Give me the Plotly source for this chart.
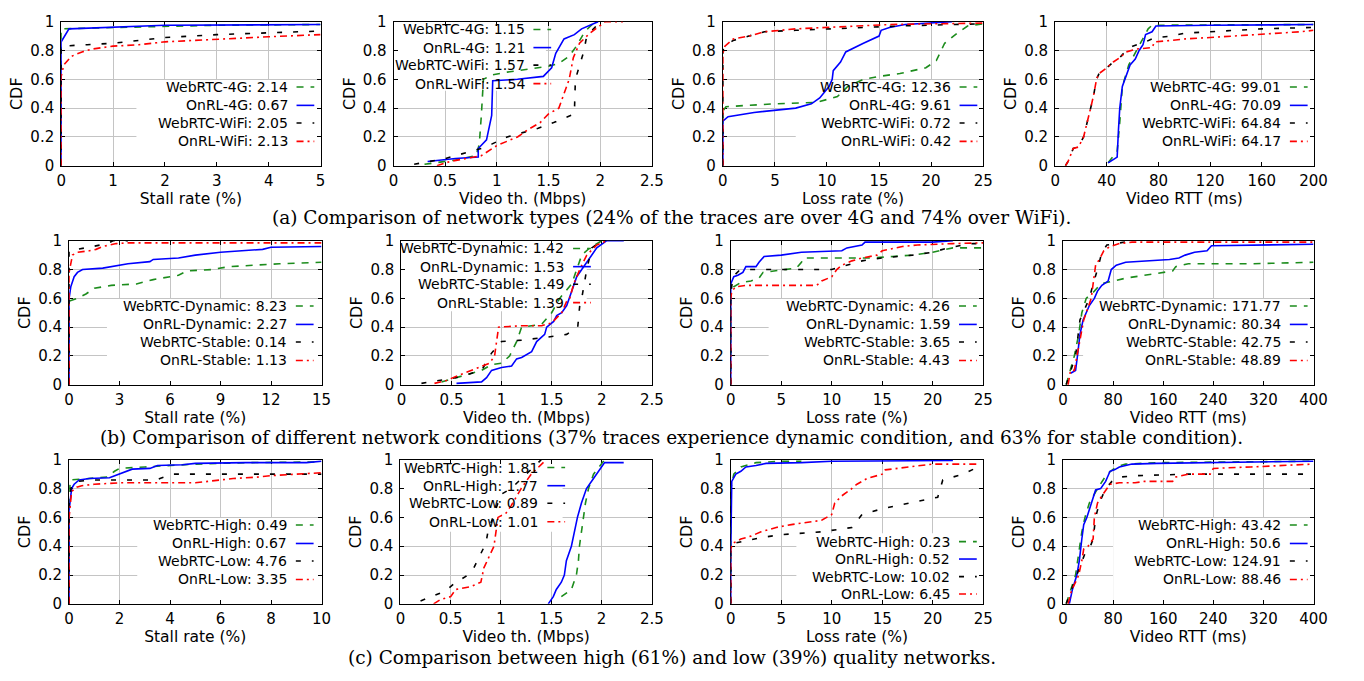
import plotly.graph_objects as go

# ---------------- series names and legend means ----------------
names_a = ["WebRTC-4G", "OnRL-4G", "WebRTC-WiFi", "OnRL-WiFi"]
names_b = ["WebRTC-Dynamic", "OnRL-Dynamic", "WebRTC-Stable", "OnRL-Stable"]
names_c = ["WebRTC-High", "OnRL-High", "WebRTC-Low", "OnRL-Low"]

mean_a_stall = [2.14, 0.67, 2.05, 2.13]
mean_a_thr = [1.15, 1.21, 1.57, 1.54]
mean_a_loss = [12.36, 9.61, 0.72, 0.42]
mean_a_rtt = [99.01, 70.09, 64.84, 64.17]
mean_b_stall = [8.23, 2.27, 0.14, 1.13]
mean_b_thr = [1.42, 1.53, 1.49, 1.39]
mean_b_loss = [4.26, 1.59, 3.65, 4.43]
mean_b_rtt = [171.77, 80.34, 42.75, 48.89]
mean_c_stall = [0.49, 0.67, 4.76, 3.35]
mean_c_thr = [1.81, 1.77, 0.89, 1.01]
mean_c_loss = [0.23, 0.52, 10.02, 6.45]
mean_c_rtt = [43.42, 50.6, 124.91, 88.46]

# ---------------- (a) network types ----------------
a_stall_web4g_x = [0, 0, 0.5, 1, 2, 3, 5]
a_stall_web4g_y = [0, 0.95, 0.955, 0.96, 0.97, 0.975, 0.98]
a_stall_onrl4g_x = [0, 0, 0.15, 1, 2, 5]
a_stall_onrl4g_y = [0, 0.86, 0.95, 0.96, 0.975, 0.98]
a_stall_webwifi_x = [0, 0, 0.5, 1, 1.5, 2, 3, 4, 5]
a_stall_webwifi_y = [0, 0.83, 0.84, 0.85, 0.87, 0.89, 0.91, 0.925, 0.935]
a_stall_onrlwifi_x = [0, 0, 0.05, 0.2, 0.4, 0.6, 1, 1.5, 2, 2.5, 3, 4, 5]
a_stall_onrlwifi_y = [0, 0.62, 0.70, 0.76, 0.79, 0.81, 0.83, 0.84, 0.86, 0.87, 0.88, 0.895, 0.91]

a_thr_web4g_x = [0.3, 0.6, 0.8, 0.83, 0.85, 0.87, 0.95, 1.1, 1.3, 1.5, 1.6, 1.7, 1.77, 1.85, 1.95]
a_thr_web4g_y = [0.01, 0.04, 0.07, 0.15, 0.35, 0.6, 0.63, 0.65, 0.67, 0.69, 0.71, 0.76, 0.83, 0.93, 1.0]
a_thr_onrl4g_x = [0.33, 0.6, 0.82, 0.82, 0.9, 0.95, 0.96, 1.2, 1.45, 1.53, 1.57, 1.65, 1.75, 1.82, 1.98]
a_thr_onrl4g_y = [0.03, 0.05, 0.06, 0.12, 0.18, 0.35, 0.59, 0.6, 0.62, 0.68, 0.78, 0.88, 0.91, 0.95, 1.0]
a_thr_webwifi_x = [0.2, 0.5, 0.7, 0.85, 0.95, 1.1, 1.25, 1.4, 1.55, 1.68, 1.75, 1.76, 1.8, 1.84, 1.87, 2.0]
a_thr_webwifi_y = [0.01, 0.05, 0.09, 0.12, 0.15, 0.2, 0.23, 0.26, 0.3, 0.34, 0.36, 0.6, 0.7, 0.79, 0.9, 1.0]
a_thr_onrlwifi_x = [0.42, 0.55, 0.7, 0.85, 1.0, 1.2, 1.3, 1.42, 1.5, 1.6, 1.65, 1.7, 1.74, 1.8, 1.9, 2.05, 2.22]
a_thr_onrlwifi_y = [0.0, 0.03, 0.05, 0.07, 0.14, 0.2, 0.25, 0.3, 0.36, 0.4, 0.5, 0.6, 0.75, 0.85, 0.92, 1.0, 1.0]

a_loss_web4g_x = [0, 0, 0.3, 5, 9, 11, 12, 13.5, 15, 17, 19.5, 20.5, 21.3, 22.5, 23.5, 25]
a_loss_web4g_y = [0, 0.38, 0.41, 0.43, 0.44, 0.48, 0.55, 0.6, 0.62, 0.64, 0.68, 0.73, 0.85, 0.92, 0.97, 0.985]
a_loss_onrl4g_x = [0, 0, 0.5, 3, 7, 8.5, 9.3, 10.2, 10.5, 10.6, 11.3, 11.8, 13.5, 14.5, 15, 15.2, 16, 17.5, 20, 22]
a_loss_onrl4g_y = [0, 0.31, 0.34, 0.37, 0.40, 0.43, 0.47, 0.55, 0.6, 0.66, 0.72, 0.79, 0.85, 0.88, 0.9, 0.94, 0.96, 0.98, 0.99, 1.0]
a_loss_webwifi_x = [0, 0, 0.2, 1, 2.5, 4, 7, 10, 14, 17, 22, 25]
a_loss_webwifi_y = [0, 0.8, 0.83, 0.87, 0.9, 0.93, 0.94, 0.95, 0.96, 0.97, 0.98, 0.985]
a_loss_onrlwifi_x = [0, 0, 0.2, 1, 2.5, 4, 7, 10, 13, 16, 20, 25]
a_loss_onrlwifi_y = [0, 0.78, 0.83, 0.88, 0.9, 0.93, 0.95, 0.96, 0.97, 0.98, 0.985, 0.99]

a_rtt_web4g_x = [41, 48, 50, 52, 57, 63, 68, 72, 75, 200]
a_rtt_web4g_y = [0.02, 0.1, 0.3, 0.55, 0.7, 0.8, 0.88, 0.95, 0.975, 0.98]
a_rtt_onrl4g_x = [41, 48, 49, 50, 52, 55, 58, 62, 65, 68, 70, 75, 78, 120, 200]
a_rtt_onrl4g_y = [0.02, 0.06, 0.25, 0.4, 0.55, 0.62, 0.7, 0.74, 0.8, 0.84, 0.91, 0.93, 0.97, 0.975, 0.98]
a_rtt_webwifi_x = [8, 10, 14, 18, 22, 25, 28, 30, 32, 34, 40, 45, 50, 55, 60, 70, 75, 80, 90, 100, 120, 140, 160, 200]
a_rtt_webwifi_y = [0, 0.03, 0.12, 0.13, 0.2, 0.3, 0.42, 0.5, 0.6, 0.64, 0.68, 0.72, 0.75, 0.8, 0.83, 0.86, 0.88, 0.89, 0.9, 0.92, 0.93, 0.94, 0.95, 0.96]
a_rtt_onrlwifi_x = [8, 10, 14, 18, 22, 25, 28, 30, 32, 34, 40, 45, 50, 55, 63, 75, 77, 90, 100, 120, 140, 160, 180, 190, 200]
a_rtt_onrlwifi_y = [0, 0.03, 0.12, 0.13, 0.2, 0.3, 0.42, 0.5, 0.6, 0.64, 0.68, 0.72, 0.75, 0.79, 0.81, 0.82, 0.86, 0.87, 0.88, 0.89, 0.9, 0.91, 0.92, 0.93, 0.94]

# ---------------- (b) network conditions ----------------
b_stall_webdyn_x = [0, 0, 0.5, 1, 1.5, 2.5, 4, 5, 6.5, 7, 8.5, 9.5, 11, 12.5, 15]
b_stall_webdyn_y = [0, 0.58, 0.6, 0.63, 0.67, 0.69, 0.7, 0.73, 0.76, 0.79, 0.8, 0.82, 0.83, 0.84, 0.85]
b_stall_onrldyn_x = [0, 0, 0.1, 0.3, 0.5, 0.8, 2, 3, 3.5, 4.8, 5, 6.5, 7.5, 9, 10, 11.5, 12, 15]
b_stall_onrldyn_y = [0, 0.6, 0.68, 0.75, 0.78, 0.8, 0.81, 0.83, 0.84, 0.855, 0.87, 0.88, 0.9, 0.92, 0.93, 0.94, 0.955, 0.96]
b_stall_webstable_x = [0, 0, 0.5, 1.5, 2.3, 2.6, 3.5]
b_stall_webstable_y = [0, 0.93, 0.94, 0.96, 0.98, 1.0, 1.0]
b_stall_onrlstable_x = [0, 0, 0.2, 0.5, 1.2, 1.6, 2, 2.8, 3.5, 15]
b_stall_onrlstable_y = [0, 0.78, 0.9, 0.92, 0.93, 0.94, 0.96, 0.98, 0.985, 0.985]

b_thr_webdyn_x = [0.4, 0.6, 0.8, 0.9, 1.0, 1.08, 1.15, 1.2, 1.4, 1.5, 1.58, 1.7, 1.75, 1.8, 1.88, 2.0]
b_thr_webdyn_y = [0.02, 0.06, 0.1, 0.14, 0.15, 0.2, 0.3, 0.4, 0.42, 0.5, 0.6, 0.7, 0.8, 0.9, 0.95, 1.0]
b_thr_onrldyn_x = [0.55, 0.8, 0.85, 0.9, 1.0, 1.1, 1.15, 1.2, 1.3, 1.35, 1.43, 1.45, 1.52, 1.55, 1.6, 1.65, 1.7, 1.75, 1.8, 1.85, 1.9, 1.95, 2.05, 2.22]
b_thr_onrldyn_y = [0.01, 0.02, 0.05, 0.1, 0.12, 0.13, 0.18, 0.19, 0.23, 0.3, 0.35, 0.4, 0.44, 0.48, 0.5, 0.55, 0.65, 0.75, 0.8, 0.85, 0.9, 0.95, 1.0, 1.0]
b_thr_webstable_x = [0.2, 0.55, 0.8, 0.9, 1.0, 1.2, 1.45, 1.65, 1.76, 1.78, 1.8, 1.85, 1.9, 2.0]
b_thr_webstable_y = [0.01, 0.05, 0.1, 0.22, 0.3, 0.31, 0.33, 0.35, 0.4, 0.55, 0.6, 0.8, 0.95, 1.0]
b_thr_onrlstable_x = [0.33, 0.45, 0.55, 0.7, 0.8, 0.88, 0.93, 0.97, 1.2, 1.4, 1.5, 1.6, 1.65, 1.68, 1.72, 1.78, 1.85, 1.95, 2.05]
b_thr_onrlstable_y = [0.01, 0.03, 0.06, 0.1, 0.13, 0.15, 0.2, 0.4, 0.41, 0.41, 0.43, 0.5, 0.58, 0.6, 0.7, 0.8, 0.9, 0.97, 1.0]

b_loss_webdyn_x = [0, 0, 0.3, 1, 2, 2.8, 3.2, 4.5, 5.5, 6.5, 7, 7.2, 10, 14, 16, 18, 20, 22, 25]
b_loss_webdyn_y = [0, 0.62, 0.68, 0.71, 0.72, 0.74, 0.78, 0.79, 0.8, 0.81, 0.85, 0.88, 0.88, 0.88, 0.89, 0.9, 0.92, 0.95, 0.95]
b_loss_onrldyn_x = [0, 0, 0.3, 0.7, 1.2, 1.5, 2.5, 2.8, 3.3, 5, 7, 11, 11.5, 13, 13.3, 20, 22]
b_loss_onrldyn_y = [0, 0.7, 0.75, 0.76, 0.78, 0.82, 0.82, 0.85, 0.89, 0.9, 0.92, 0.93, 0.95, 0.97, 0.99, 0.99, 1.0]
b_loss_webstable_x = [0, 0, 0.2, 0.8, 1.5, 10, 11, 12, 13, 15, 18, 20, 21.5, 23, 24, 25]
b_loss_webstable_y = [0, 0.62, 0.75, 0.79, 0.8, 0.8, 0.82, 0.84, 0.86, 0.88, 0.9, 0.92, 0.95, 0.97, 0.98, 0.98]
b_loss_onrlstable_x = [0, 0, 0.1, 0.5, 1.5, 8.5, 9, 10, 10.5, 11, 12, 13, 14.5, 15, 17, 18.5, 22, 25]
b_loss_onrlstable_y = [0, 0.6, 0.65, 0.68, 0.69, 0.69, 0.72, 0.75, 0.8, 0.83, 0.86, 0.88, 0.9, 0.93, 0.96, 0.97, 0.98, 0.985]

b_rtt_webdyn_x = [5, 12, 18, 25, 30, 37, 50, 60, 80, 100, 130, 160, 175, 180, 200, 300, 400]
b_rtt_webdyn_y = [0, 0.1, 0.2, 0.35, 0.5, 0.6, 0.65, 0.7, 0.72, 0.74, 0.76, 0.78, 0.79, 0.82, 0.84, 0.84, 0.85]
b_rtt_onrldyn_x = [12, 20, 23, 27, 32, 37, 42, 50, 55, 62, 72, 77, 85, 100, 140, 170, 185, 195, 210, 230, 237, 360, 400]
b_rtt_onrldyn_y = [0.08, 0.1, 0.2, 0.35, 0.45, 0.5, 0.55, 0.6, 0.65, 0.69, 0.72, 0.8, 0.83, 0.85, 0.86, 0.87, 0.88, 0.9, 0.92, 0.93, 0.965, 0.97, 0.975]
b_rtt_webstable_x = [5, 12, 20, 27, 32, 42, 48, 55, 62, 70, 85, 105, 110]
b_rtt_webstable_y = [0, 0.1, 0.2, 0.45, 0.5, 0.6, 0.7, 0.8, 0.92, 0.97, 0.98, 1.0, 1.0]
b_rtt_onrlstable_x = [8, 12, 18, 22, 28, 33, 37, 45, 48, 52, 58, 65, 75, 90, 110, 400]
b_rtt_onrlstable_y = [0, 0.1, 0.1, 0.2, 0.35, 0.45, 0.5, 0.6, 0.7, 0.83, 0.87, 0.93, 0.96, 0.98, 0.99, 0.99]

# ---------------- (c) quality ----------------
c_stall_webhigh_x = [0, 0, 0.05, 1, 1.5, 1.8, 2, 3, 4, 5, 7, 10]
c_stall_webhigh_y = [0, 0.74, 0.86, 0.87, 0.88, 0.92, 0.94, 0.95, 0.96, 0.97, 0.98, 0.985]
c_stall_onrlhigh_x = [0, 0, 0.1, 0.2, 0.4, 0.8, 1.6, 2, 2.3, 2.5, 3.2, 3.5, 4.5, 5, 7, 9.4, 10]
c_stall_onrlhigh_y = [0, 0.65, 0.8, 0.83, 0.86, 0.87, 0.875, 0.9, 0.92, 0.935, 0.94, 0.96, 0.965, 0.975, 0.98, 0.98, 0.99]
c_stall_weblow_x = [0, 0, 0.1, 0.3, 1, 3.5, 3.6, 4.1, 10]
c_stall_weblow_y = [0, 0.7, 0.83, 0.85, 0.86, 0.86, 0.87, 0.9, 0.9]
c_stall_onrllow_x = [0, 0, 0.1, 0.3, 0.5, 1, 2, 5, 5.5, 6, 6.5, 7.5, 8, 9, 10]
c_stall_onrllow_y = [0, 0.6, 0.78, 0.81, 0.82, 0.83, 0.84, 0.84, 0.85, 0.86, 0.87, 0.88, 0.89, 0.9, 0.91]

c_thr_webhigh_x = [1.6, 1.7, 1.75, 1.77, 1.78, 1.8, 1.82, 1.84, 1.87, 1.92, 2.03]
c_thr_webhigh_y = [0.05, 0.1, 0.2, 0.3, 0.4, 0.5, 0.6, 0.7, 0.8, 0.9, 1.0]
c_thr_onrlhigh_x = [1.47, 1.52, 1.55, 1.6, 1.63, 1.65, 1.7, 1.73, 1.76, 1.8, 1.85, 1.92, 1.98, 2.03, 2.22]
c_thr_onrlhigh_y = [0, 0.05, 0.1, 0.15, 0.2, 0.3, 0.4, 0.5, 0.6, 0.7, 0.8, 0.87, 0.93, 0.98, 0.98]
c_thr_weblow_x = [0.2, 0.45, 0.55, 0.65, 0.73, 0.8, 0.85, 0.87, 0.92, 0.97, 1.0, 1.1, 1.25, 1.4]
c_thr_weblow_y = [0.02, 0.09, 0.15, 0.19, 0.25, 0.35, 0.42, 0.5, 0.6, 0.7, 0.76, 0.8, 0.9, 1.0]
c_thr_onrllow_x = [0.33, 0.4, 0.5, 0.55, 0.7, 0.8, 0.83, 0.9, 0.93, 0.95, 0.97, 1.05, 1.1, 1.2, 1.3, 1.45]
c_thr_onrllow_y = [0, 0.03, 0.05, 0.1, 0.12, 0.15, 0.25, 0.35, 0.4, 0.5, 0.6, 0.63, 0.68, 0.8, 0.9, 1.0]

c_loss_webhigh_x = [0, 0, 0.3, 1, 2.5, 5, 7]
c_loss_webhigh_y = [0, 0.8, 0.9, 0.95, 0.98, 0.99, 0.99]
c_loss_onrlhigh_x = [0, 0, 0.1, 0.5, 1, 1.5, 2.5, 3.5, 7, 10, 22]
c_loss_onrlhigh_y = [0, 0.35, 0.85, 0.9, 0.92, 0.95, 0.96, 0.975, 0.98, 0.99, 0.995]
c_loss_weblow_x = [0, 0, 0.3, 1.5, 3, 5, 7, 9, 11, 12, 13, 15, 17, 19, 20.5, 21, 23, 24.5]
c_loss_weblow_y = [0, 0.38, 0.42, 0.44, 0.46, 0.48, 0.49, 0.5, 0.52, 0.53, 0.62, 0.66, 0.69, 0.72, 0.74, 0.86, 0.9, 0.95]
c_loss_onrllow_x = [0, 0, 0.2, 1, 2, 3, 4.5, 6, 8, 9, 9.5, 10, 10.3, 11, 11.8, 12.5, 13.5, 15, 15.3, 17.5, 20, 24.5]
c_loss_onrllow_y = [0, 0.38, 0.42, 0.45, 0.47, 0.5, 0.53, 0.55, 0.57, 0.58, 0.6, 0.62, 0.7, 0.75, 0.79, 0.83, 0.87, 0.9, 0.93, 0.95, 0.97, 0.97]

c_rtt_webhigh_x = [5, 12, 20, 25, 30, 35, 42, 55, 70, 85, 100, 150, 400]
c_rtt_webhigh_y = [0, 0.1, 0.2, 0.35, 0.5, 0.6, 0.7, 0.8, 0.9, 0.95, 0.97, 0.98, 0.99]
c_rtt_onrlhigh_x = [10, 15, 22, 26, 30, 33, 38, 45, 52, 60, 68, 75, 82, 90, 110, 150, 220, 400]
c_rtt_onrlhigh_y = [0, 0.1, 0.2, 0.3, 0.45, 0.55, 0.6, 0.7, 0.79, 0.8, 0.85, 0.92, 0.93, 0.95, 0.97, 0.975, 0.98, 0.99]
c_rtt_weblow_x = [5, 14, 22, 35, 42, 48, 52, 58, 68, 78, 90, 120, 200, 400]
c_rtt_weblow_y = [0, 0.1, 0.2, 0.35, 0.38, 0.45, 0.6, 0.7, 0.8, 0.85, 0.88, 0.89, 0.9, 0.9]
c_rtt_onrllow_x = [8, 14, 20, 25, 30, 33, 40, 48, 50, 55, 62, 70, 75, 90, 115, 130, 175, 180, 200, 235, 240, 300, 360, 400]
c_rtt_onrllow_y = [0, 0.1, 0.15, 0.2, 0.3, 0.38, 0.4, 0.45, 0.6, 0.7, 0.75, 0.8, 0.83, 0.84, 0.84, 0.85, 0.85, 0.88, 0.9, 0.9, 0.94, 0.95, 0.96, 0.97]

# axis ticks
tick_stall_a = [0, 1, 2, 3, 4, 5]
tick_stall_b = [0, 3, 6, 9, 12, 15]
tick_stall_c = [0, 2, 4, 6, 8, 10]
tick_thr = [0, 0.5, 1, 1.5, 2, 2.5]
tick_loss = [0, 5, 10, 15, 20, 25]
tick_rtt_a = [0, 40, 80, 120, 160, 200]
tick_rtt_bc = [0, 80, 160, 240, 320, 400]
tick_cdf = [0, 0.2, 0.4, 0.6, 0.8, 1]

captions = [
    "(a) Comparison of network types (24% of the traces are over 4G and 74% over WiFi).",
    "(b) Comparison of different network conditions (37% traces experience dynamic condition, and 63% for stable condition).",
    "(c) Comparison between high (61%) and low (39%) quality networks.",
]

# ---------------- styling ----------------
W, H = 1364, 681
SANS = "DejaVu Sans"
SERIF = "DejaVu Serif"
COLORS = ["#1c8c1c", "#0000ff", "#000000", "#ff0000"]
DASHES = ["7px,7px", "solid", "5px,11px", "7px,4px,2px,4px"]
WIDTHS = [1.6, 1.6, 1.6, 1.6]

# plot-area pixel boxes (left, right) per row and (top, bottom) per row
rows_px = [(13, 161), (238, 386), (463, 611)]
cols_px = [
    [(57, 320), (394, 656), (728, 992), (1065, 1327)],
    [(65, 321), (402, 656), (736, 992), (1073, 1327)],
    [(65, 321), (401, 656), (736, 992), (1073, 1327)],
]
caption_y = [214, 440, 666]

BR_ROWS = [0.547, 0.419, 0.297, 0.169]
TL_ROWS = [0.946, 0.82, 0.698, 0.57]
LOW_ROWS = [0.432, 0.311, 0.189, 0.068]

panels = [
    dict(xs=[a_stall_web4g_x, a_stall_onrl4g_x, a_stall_webwifi_x, a_stall_onrlwifi_x],
         ys=[a_stall_web4g_y, a_stall_onrl4g_y, a_stall_webwifi_y, a_stall_onrlwifi_y],
         names=names_a, means=mean_a_stall, ticks=tick_stall_a, title="Stall rate (%)",
         tx=0.877, rows=BR_ROWS, box=(0.29, 1.0, 0.0, 0.595)),
    dict(xs=[a_thr_web4g_x, a_thr_onrl4g_x, a_thr_webwifi_x, a_thr_onrlwifi_x],
         ys=[a_thr_web4g_y, a_thr_onrl4g_y, a_thr_webwifi_y, a_thr_onrlwifi_y],
         names=names_a, means=mean_a_thr, ticks=tick_thr, title="Video th. (Mbps)",
         tx=0.511, rows=TL_ROWS, box=(0.0, 0.59, 0.52, 1.0)),
    dict(xs=[a_loss_web4g_x, a_loss_onrl4g_x, a_loss_webwifi_x, a_loss_onrlwifi_x],
         ys=[a_loss_web4g_y, a_loss_onrl4g_y, a_loss_webwifi_y, a_loss_onrlwifi_y],
         names=names_a, means=mean_a_loss, ticks=tick_loss, title="Loss rate (%)",
         tx=0.879, rows=BR_ROWS, box=(0.28, 1.0, 0.0, 0.595)),
    dict(xs=[a_rtt_web4g_x, a_rtt_onrl4g_x, a_rtt_webwifi_x, a_rtt_onrlwifi_x],
         ys=[a_rtt_web4g_y, a_rtt_onrl4g_y, a_rtt_webwifi_y, a_rtt_onrlwifi_y],
         names=names_a, means=mean_a_rtt, ticks=tick_rtt_a, title="Video RTT (ms)",
         tx=0.878, rows=BR_ROWS, box=(0.25, 1.0, 0.0, 0.595)),
    dict(xs=[b_stall_webdyn_x, b_stall_onrldyn_x, b_stall_webstable_x, b_stall_onrlstable_x],
         ys=[b_stall_webdyn_y, b_stall_onrldyn_y, b_stall_webstable_y, b_stall_onrlstable_y],
         names=names_b, means=mean_b_stall, ticks=tick_stall_b, title="Stall rate (%)",
         tx=0.867, rows=BR_ROWS, box=(0.15, 1.0, 0.0, 0.595)),
    dict(xs=[b_thr_webdyn_x, b_thr_onrldyn_x, b_thr_webstable_x, b_thr_onrlstable_x],
         ys=[b_thr_webdyn_y, b_thr_onrldyn_y, b_thr_webstable_y, b_thr_onrlstable_y],
         names=names_b, means=mean_b_thr, ticks=tick_thr, title="Video th. (Mbps)",
         tx=0.654, rows=TL_ROWS, box=(0.0, 0.74, 0.51, 1.0)),
    dict(xs=[b_loss_webdyn_x, b_loss_onrldyn_x, b_loss_webstable_x, b_loss_onrlstable_x],
         ys=[b_loss_webdyn_y, b_loss_onrldyn_y, b_loss_webstable_y, b_loss_onrlstable_y],
         names=names_b, means=mean_b_loss, ticks=tick_loss, title="Loss rate (%)",
         tx=0.873, rows=BR_ROWS, box=(0.15, 1.0, 0.0, 0.595)),
    dict(xs=[b_rtt_webdyn_x, b_rtt_onrldyn_x, b_rtt_webstable_x, b_rtt_onrlstable_x],
         ys=[b_rtt_webdyn_y, b_rtt_onrldyn_y, b_rtt_webstable_y, b_rtt_onrlstable_y],
         names=names_b, means=mean_b_rtt, ticks=tick_rtt_bc, title="Video RTT (ms)",
         tx=0.874, rows=BR_ROWS, box=(0.08, 1.0, 0.0, 0.595)),
    dict(xs=[c_stall_webhigh_x, c_stall_onrlhigh_x, c_stall_weblow_x, c_stall_onrllow_x],
         ys=[c_stall_webhigh_y, c_stall_onrlhigh_y, c_stall_weblow_y, c_stall_onrllow_y],
         names=names_c, means=mean_c_stall, ticks=tick_stall_c, title="Stall rate (%)",
         tx=0.867, rows=BR_ROWS, box=(0.27, 1.0, 0.0, 0.595)),
    dict(xs=[c_thr_webhigh_x, c_thr_onrlhigh_x, c_thr_weblow_x, c_thr_onrllow_x],
         ys=[c_thr_webhigh_y, c_thr_onrlhigh_y, c_thr_weblow_y, c_thr_onrllow_y],
         names=names_c, means=mean_c_thr, ticks=tick_thr, title="Video th. (Mbps)",
         tx=0.553, rows=TL_ROWS, box=(0.0, 0.645, 0.5, 1.0)),
    dict(xs=[c_loss_webhigh_x, c_loss_onrlhigh_x, c_loss_weblow_x, c_loss_onrllow_x],
         ys=[c_loss_webhigh_y, c_loss_onrlhigh_y, c_loss_weblow_y, c_loss_onrllow_y],
         names=names_c, means=mean_c_loss, ticks=tick_loss, title="Loss rate (%)",
         tx=0.873, rows=LOW_ROWS, box=(0.26, 1.0, 0.0, 0.49)),
    dict(xs=[c_rtt_webhigh_x, c_rtt_onrlhigh_x, c_rtt_weblow_x, c_rtt_onrllow_x],
         ys=[c_rtt_webhigh_y, c_rtt_onrlhigh_y, c_rtt_weblow_y, c_rtt_onrllow_y],
         names=names_c, means=mean_c_rtt, ticks=tick_rtt_bc, title="Video RTT (ms)",
         tx=0.874, rows=BR_ROWS, box=(0.2, 1.0, 0.0, 0.595)),
]

fig = go.Figure()
layout_axes = {}

for i, p in enumerate(panels):
    r, c = divmod(i, 4)
    n = i + 1
    xa = "x" if n == 1 else f"x{n}"
    ya = "y" if n == 1 else f"y{n}"
    left, right = cols_px[r][c]
    top, bottom = rows_px[r]
    wpx = right - left
    x_lo, x_hi = p["ticks"][0], p["ticks"][-1]

    for k in range(4):
        fig.add_trace(go.Scatter(
            x=p["xs"][k], y=p["ys"][k], mode="lines",
            line=dict(color=COLORS[k], width=WIDTHS[k], dash=DASHES[k]),
            xaxis=xa, yaxis=ya, showlegend=False, name=p["names"][k]))

    common = dict(showline=True, linecolor="black", linewidth=1, mirror="ticks",
                  ticks="inside", ticklen=4, tickcolor="black", tickwidth=1,
                  showgrid=True, gridcolor="#c4c4c4", gridwidth=1, zeroline=False,
                  layer="below traces",
                  tickfont=dict(family=SANS, size=15, color="black"))
    layout_axes["xaxis" if n == 1 else f"xaxis{n}"] = dict(
        common, domain=[left / W, right / W], anchor=ya,
        range=[x_lo, x_hi], tickvals=p["ticks"],
        ticktext=[str(t) for t in p["ticks"]], ticklabelstandoff=1,
        title=dict(text=p["title"], font=dict(family=SANS, size=15.5, color="black"), standoff=1))
    layout_axes["yaxis" if n == 1 else f"yaxis{n}"] = dict(
        common, domain=[1 - bottom / H, 1 - top / H], anchor=xa,
        range=[0, 1], tickvals=tick_cdf, ticktext=[str(t) for t in tick_cdf],
        ticklabelstandoff=3,
        title=dict(text="CDF", font=dict(family=SANS, size=16, color="black"), standoff=3))

    # opaque legend box (hides grid, sits under the data)
    bx0, bx1, by0, by1 = p["box"]
    fig.add_shape(type="rect", xref=xa, yref=ya,
                  x0=x_lo + bx0 * (x_hi - x_lo), x1=x_lo + bx1 * (x_hi - x_lo),
                  y0=by0, y1=by1, fillcolor="white",
                  line=dict(width=0), layer="between")
    for k in range(4):
        yk = p["rows"][k]
        fig.add_annotation(xref=f"{xa} domain", yref=f"{ya} domain", x=p["tx"], y=yk,
                           text=f"{p['names'][k]}: {p['means'][k]}", showarrow=False,
                           xanchor="right", yanchor="middle", borderpad=0,
                           font=dict(family=SANS, size=14, color="black"))
        fig.add_shape(type="line", xref=f"{xa} domain", yref=f"{ya} domain",
                      x0=p["tx"] + 8 / wpx, x1=p["tx"] + 26 / wpx, y0=yk, y1=yk,
                      line=dict(color=COLORS[k], width=WIDTHS[k], dash=DASHES[k]))

for j, cap in enumerate(captions):
    fig.add_annotation(xref="paper", yref="paper", x=676 / W, y=1 - caption_y[j] / H,
                       text=cap, showarrow=False, xanchor="center", yanchor="middle",
                       font=dict(family=SERIF, size=18.5, color="black"))

fig.update_layout(width=W, height=H, margin=dict(l=0, r=0, t=0, b=0),
                  paper_bgcolor="white", plot_bgcolor="white", showlegend=False,
                  **layout_axes)

fig.write_html("out.html", config={"displayModeBar": False},
               post_script="document.body.style.margin='0px';")
